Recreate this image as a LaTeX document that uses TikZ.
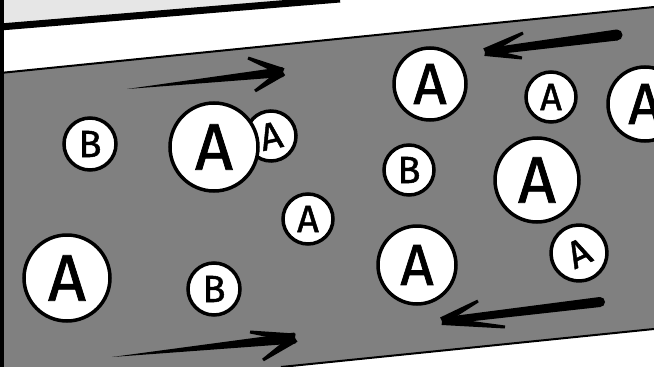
\documentclass[tikz,border=0pt]{standalone}
\usepackage{fontspec}
\setmainfont{Fira Sans}
\newfontfamily\molfont[FakeBold=1.2]{Fira Sans}
\usetikzlibrary{calc}

\definecolor{bandgray}{RGB}{128,128,128}
\definecolor{wallgray}{RGB}{230,230,230}

% tapered brush stroke from #1 (half width #3) to #2 (half width #4)
\newcommand\brush[4]{%
  \fill ($(#1)!#3!90:(#2)$) -- ($(#1)!#3!-90:(#2)$)
    -- ($(#2)!#4!90:(#1)$) -- ($(#2)!#4!-90:(#1)$) -- cycle;}

\begin{document}
\begin{tikzpicture}[
  x=1pt, y=-1pt,
  mol/.style={circle, draw, fill=white, line width=3.5pt, inner sep=0pt},
  sm/.style={mol, minimum size=52pt, font=\molfont\fontsize{38pt}{38pt}\selectfont},
  md/.style={mol, minimum size=74pt, font=\molfont\fontsize{58pt}{58pt}\selectfont},
  lg/.style={mol, minimum size=88pt, font=\molfont\fontsize{66pt}{66pt}\selectfont},
  edge/.style={line width=2pt}]

\useasboundingbox (0,0) rectangle (654,367);
\clip (0,0) rectangle (654,367);

% wall, strip and channel
\fill[wallgray] (0,0) -- (340,0) -- (0,28) -- cycle;
\fill[bandgray] (0,73) -- (654,7) -- (654,329) -- (281,367) -- (0,367) -- cycle;
\draw[line width=7pt] (0,27) -- (340,-1);
\draw[edge] (0,73) -- (654,7);
\draw[edge] (281,367) -- (654,329);
\draw[line width=4pt] (2,0) -- (2,367);

% molecules, left half
\node[sm] (b1) at (90,144) {B};
\node[sm, minimum size=50pt, rotate=12] (a2) at (271,136) {A};
\node[lg] (a1) at (214,147) {A};
\node[sm, minimum size=50pt] (a3) at (308,219) {A};
\node[lg, minimum size=86pt] (a4) at (67,278) {A};
\node[sm] (b2) at (214,289) {B};

% molecules, right half
\node[md, minimum size=72pt] (a5) at (430,84) {A};
\node[sm, minimum size=50pt] (a6) at (551,97) {A};
\node[md] (a7) at (645,104) {A};
\node[sm, minimum size=50pt] (b3) at (409,170) {B};
\node[lg, minimum size=84pt] (a8) at (537,180) {A};
\node[md, minimum size=78pt] (a9) at (417,265) {A};
\node[sm, minimum size=56pt, rotate=25] (a10) at (579,253) {A};

% flow arrows
\coordinate (r1t) at (127,89);  \coordinate (r1h) at (283,72);
\coordinate (r1u) at (248,58);  \coordinate (r1d) at (255,91);
\brush{r1t}{r1h}{0pt}{5pt}
\brush{r1u}{r1h}{1.5pt}{4pt}
\brush{r1d}{r1h}{1.5pt}{4pt}

\coordinate (l1t) at (617,35);  \coordinate (l1h) at (485,52);
\coordinate (l1u) at (523,33);  \coordinate (l1d) at (522,58);
\fill (l1t) circle (5.5pt);
\brush{l1t}{l1h}{5.5pt}{3.5pt}
\brush{l1u}{l1h}{1.5pt}{4pt}
\brush{l1d}{l1h}{1.5pt}{4pt}

\coordinate (r2t) at (112,357); \coordinate (r2h) at (295,338);
\coordinate (r2u) at (250,332); \coordinate (r2d) at (263,360);
\brush{r2t}{r2h}{0pt}{5.5pt}
\brush{r2u}{r2h}{1.5pt}{4.5pt}
\brush{r2d}{r2h}{1.5pt}{4.5pt}

\coordinate (l2t) at (600,302); \coordinate (l2h) at (442,321);
\coordinate (l2u) at (478,301); \coordinate (l2d) at (505,327);
\fill (l2t) circle (5pt);
\brush{l2t}{l2h}{5pt}{3.5pt}
\brush{l2u}{l2h}{1.5pt}{4pt}
\brush{l2d}{l2h}{1.5pt}{4pt}
\end{tikzpicture}
\end{document}
